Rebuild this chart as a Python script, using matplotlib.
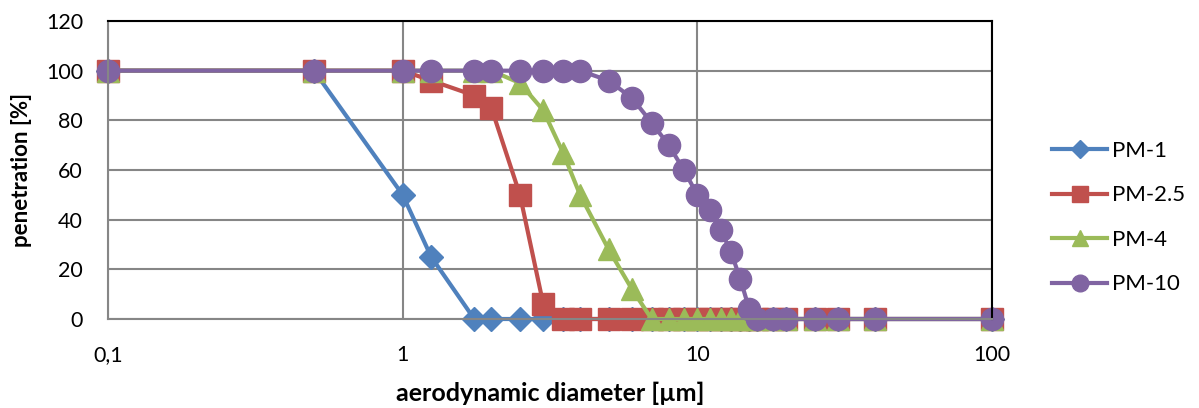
import matplotlib.pyplot as plt
from matplotlib.ticker import FixedLocator, FixedFormatter, NullLocator

# diámetros aerodinámicos [µm]
diametro = [0.1, 0.5, 1, 1.25, 1.75, 2, 2.5, 3, 3.5, 4, 5, 6, 7, 8, 9, 10,
            11, 12, 13, 14, 15, 16, 18, 20, 25, 30, 40, 100]

# penetración [%]
pm1 = [100, 100, 50, 25, 0, 0, 0, 0, 0, 0, 0, 0, 0, 0, 0, 0,
       0, 0, 0, 0, 0, 0, 0, 0, 0, 0, 0, 0]
pm25 = [100, 100, 100, 96, 90, 85, 50, 6, 0, 0, 0, 0, 0, 0, 0, 0,
        0, 0, 0, 0, 0, 0, 0, 0, 0, 0, 0, 0]
pm4 = [100, 100, 100, 100, 100, 100, 95, 84, 67, 50, 28, 12, 0, 0, 0, 0,
       0, 0, 0, 0, 0, 0, 0, 0, 0, 0, 0, 0]
pm10 = [100, 100, 100, 100, 100, 100, 100, 100, 100, 100, 96, 89, 79, 70, 60, 50,
        44, 36, 27, 16, 4, 0, 0, 0, 0, 0, 0, 0]

xticks = [0.1, 1, 10, 100]
xtick_labels = ["0,1", "1", "10", "100"]
yticks = [0, 20, 40, 60, 80, 100, 120]

plt.rcParams['font.family'] = ['Lato', 'DejaVu Sans']

fig = plt.figure(figsize=(11.99, 4.08), dpi=100)
ax = fig.add_axes([108 / 1199, 1 - 319 / 408, (992 - 108) / 1199, (319 - 21) / 408])

ax.plot(diametro, pm1, color="#4F81BD", lw=3, marker="D", ms=12, label="PM-1")
ax.plot(diametro, pm25, color="#C0504D", lw=3, marker="s", ms=16, label="PM-2.5")
ax.plot(diametro, pm4, color="#9BBB59", lw=3, marker="^", ms=16, label="PM-4")
ax.plot(diametro, pm10, color="#8064A2", lw=3, marker="o", ms=16, label="PM-10")

ax.set_xscale("log")
ax.set_xlim(0.1, 100)
ax.set_ylim(0, 120)
ax.xaxis.set_major_locator(FixedLocator(xticks))
ax.xaxis.set_major_formatter(FixedFormatter(xtick_labels))
ax.xaxis.set_minor_locator(NullLocator())
ax.set_yticks(yticks)
ax.tick_params(axis="y", length=0, labelsize=15.5, pad=18)
ax.tick_params(axis="x", length=0, labelsize=15.5, pad=19)
ax.grid(True, color="#868686", lw=1.5)
ax.set_axisbelow(True)
for s in ["left", "bottom"]:
    ax.spines[s].set_color("#868686")
    ax.spines[s].set_linewidth(1.5)
for s in ["top", "right"]:
    ax.spines[s].set_color("black")
    ax.spines[s].set_linewidth(1.5)
for line in ax.lines:
    line.set_clip_on(False)

ax.set_xlabel("aerodynamic diameter [µm]", fontsize=18, fontweight="bold", labelpad=12)
ax.set_ylabel("penetration [%]", fontsize=16, fontweight="bold", labelpad=10)

ax.legend(loc="center left", bbox_to_anchor=(1.045, 0.34), frameon=False, fontsize=16,
          labelspacing=1.1, handlelength=2.5, handletextpad=0.2, markerscale=0.75)

fig.savefig("out.png", dpi=100)
